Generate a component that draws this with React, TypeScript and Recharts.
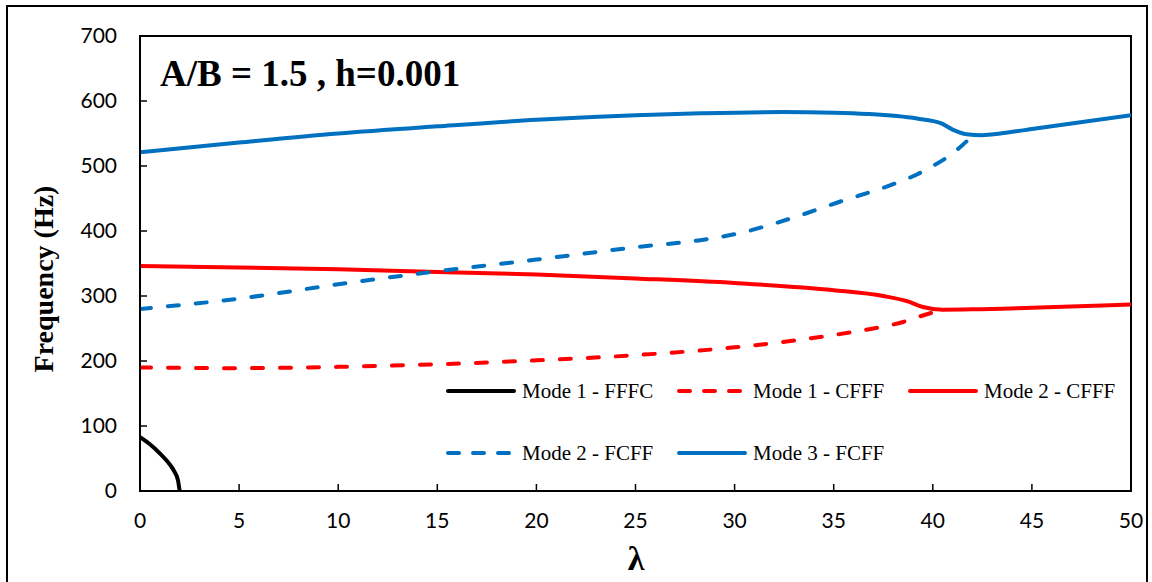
import React from 'react';
import {
  LineChart,
  Line,
  XAxis,
  YAxis,
  ReferenceArea,
  Legend,
} from 'recharts';

// λ values and frequencies (Hz), one pair of arrays per mode
const lambdaFFFC1 = [0, 0.5, 1, 1.5, 1.75, 1.92, 2.0];
const hzFFFC1 = [83, 72, 58, 41, 29, 16, 0];

const lambdaCFFF1 = [0, 5, 10, 15, 20, 25, 30, 35, 37, 38.5, 39.5, 40.5];
const hzCFFF1 = [190, 189, 191, 195, 201, 209, 221, 240, 250, 260, 270, 279];

const lambdaCFFF2 = [0, 5, 10, 15, 20, 25, 30, 35, 37.5, 38.7, 39.5, 40.5, 42, 45, 50];
const hzCFFF2 = [346, 344, 341, 337, 333, 327, 320, 309, 300, 292, 283, 279, 279.5, 282, 287];

const lambdaFCFF2 = [0, 5, 10, 15, 20, 25, 28.5, 30, 32.8, 35.3, 38, 39.2, 40, 40.7, 41.3, 41.8, 42.2];
const hzFCFF2 = [280, 296, 318, 338, 356, 375, 387, 395, 419, 445, 472, 487, 500, 513, 527, 540, 547];

const lambdaFCFF3 = [0, 5, 10, 15, 20, 25, 28.3, 32.4, 35, 36.7, 39.2, 40.4, 41, 41.7, 42.5, 43.4, 45, 50];
const hzFCFF3 = [521, 536, 550, 561, 571, 578, 581, 583, 582, 580, 573, 566, 556, 549, 547.5, 550, 557, 578];

const xTicks = [0, 5, 10, 15, 20, 25, 30, 35, 40, 45, 50];
const yTicks = [0, 100, 200, 300, 400, 500, 600, 700];

const zip = (xs: number[], ys: number[]) => xs.map((x, i) => ({ x, y: ys[i] }));

const RED = '#ff0000';
const BLUE = '#0070c0';

const series = [
  { name: 'Mode 1 - FFFC', data: zip(lambdaFFFC1, hzFFFC1), color: '#000000', dashed: false },
  { name: 'Mode 1 - CFFF', data: zip(lambdaCFFF1, hzCFFF1), color: RED, dashed: true },
  { name: 'Mode 2 - CFFF', data: zip(lambdaCFFF2, hzCFFF2), color: RED, dashed: false },
  { name: 'Mode 2 - FCFF', data: zip(lambdaFCFF2, hzFCFF2), color: BLUE, dashed: true },
  { name: 'Mode 3 - FCFF', data: zip(lambdaFCFF3, hzFCFF3), color: BLUE, dashed: false },
];

const tickStyle = { fontFamily: 'Lato, sans-serif', fontSize: 21, fill: '#000' };

function LegendBox() {
  return (
    <div
      style={{
        display: 'grid',
        gridTemplateColumns: '231px 231px 231px',
        gridAutoRows: '30px',
        rowGap: 32,
        fontFamily: '"Liberation Serif", serif',
        fontSize: 21,
        color: '#000',
      }}
    >
      {series.map((s) => (
        <div key={s.name} style={{ display: 'flex', alignItems: 'center', height: 30 }}>
          <svg width={70} height={10} style={{ marginRight: 6 }}>
            <line
              x1={2}
              y1={5}
              x2={68}
              y2={5}
              stroke={s.color}
              strokeWidth={4}
              strokeLinecap="round"
              strokeDasharray={s.dashed ? '11 14' : undefined}
            />
          </svg>
          <span style={{ whiteSpace: 'nowrap' }}>{s.name}</span>
        </div>
      ))}
    </div>
  );
}

export default function App() {
  return (
    <div style={{ position: 'absolute', left: 0, top: 0, width: 1152, height: 582, overflow: 'hidden', background: '#fff' }}>
      <div
        style={{
          position: 'absolute',
          left: 6,
          top: 5,
          width: 1138,
          height: 620,
          border: '2px solid #000',
        }}
      />
      <LineChart
        width={1152}
        height={582}
        margin={{ top: 36, right: 21, bottom: 51, left: 80 }}
        style={{ position: 'absolute', left: 0, top: 0 }}
      >
        <XAxis
          type="number"
          dataKey="x"
          domain={[0, 50]}
          ticks={xTicks}
          allowDataOverflow
          height={40}
          tick={tickStyle}
          tickSize={-7}
          tickMargin={29}
          tickLine={{ stroke: '#000', strokeWidth: 1.5 }}
          axisLine={{ stroke: '#000', strokeWidth: 2 }}
        />
        <YAxis
          type="number"
          dataKey="y"
          domain={[0, 700]}
          ticks={yTicks}
          allowDataOverflow
          width={60}
          tick={tickStyle}
          tickSize={-7}
          tickMargin={30}
          tickLine={{ stroke: '#000', strokeWidth: 1.5 }}
          axisLine={{ stroke: '#000', strokeWidth: 2 }}
        />
        <ReferenceArea x1={0} x2={50} y1={0} y2={700} fill="none" stroke="#000" strokeWidth={2} />
        {series.map((s) => (
          <Line
            key={s.name}
            name={s.name}
            data={s.data}
            dataKey="y"
            type="monotone"
            stroke={s.color}
            strokeWidth={4}
            strokeDasharray={s.dashed ? '11 17' : undefined}
            strokeLinecap="round"
            dot={false}
            activeDot={false}
            isAnimationActive={false}
          />
        ))}
        <Legend
          layout="horizontal"
          verticalAlign="middle"
          align="center"
          content={() => <LegendBox />}
          wrapperStyle={{ left: 446, top: 376, width: 700 }}
        />
      </LineChart>
      <svg width={1152} height={582} style={{ position: 'absolute', left: 0, top: 0, pointerEvents: 'none' }}>
        <text
          x={160}
          y={86}
          fontFamily='"Liberation Serif", serif'
          fontWeight="bold"
          fontSize={37}
          fill="#000"
        >
          A/B = 1.5 , h=0.001
        </text>
        <text
          transform="translate(53,279) rotate(-90)"
          textAnchor="middle"
          fontFamily='"Liberation Serif", serif'
          fontWeight="bold"
          fontSize={28}
          fill="#000"
        >
          Frequency (Hz)
        </text>
        <text
          x={636}
          y={570}
          textAnchor="middle"
          fontFamily='"Liberation Serif", serif'
          fontWeight="bold"
          fontSize={34}
          fill="#000"
        >
          λ
        </text>
      </svg>
    </div>
  );
}
